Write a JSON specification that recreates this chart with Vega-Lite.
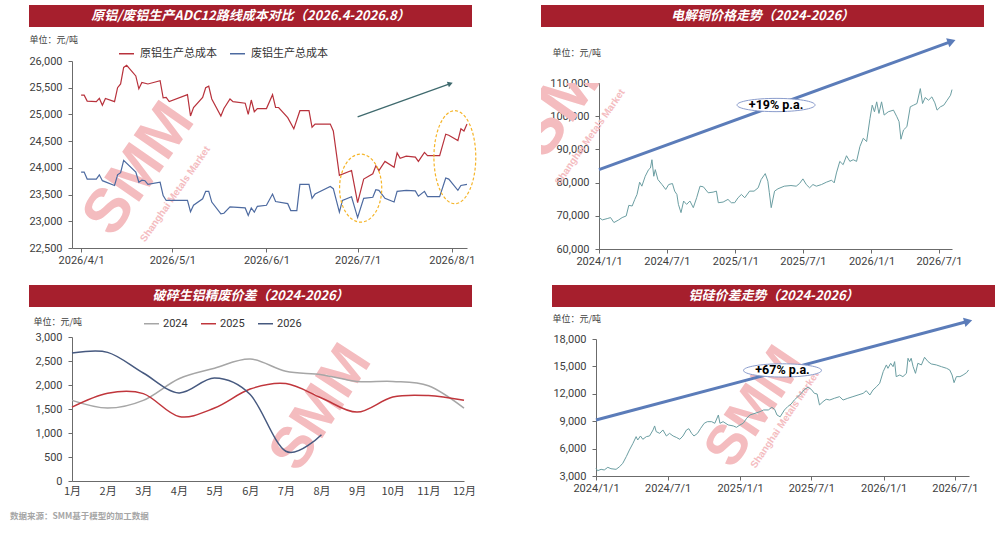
{
  "$schema": "https://vega.github.io/schema/vega-lite/v6.json",
  "background": "white",
  "padding": {"left": 9, "top": 5, "right": 5, "bottom": 5},
  "title": {
    "text": "数据来源：SMM基于模型的加工数据",
    "orient": "bottom", "anchor": "start", "frame": "bounds",
    "dx": -19, "offset": 16, "fontSize": 8.5, "fontWeight": "bold",
    "color": "#a6a6a6", "font": "Noto Sans CJK SC"
  },
  "config": {
    "font": "Roboto, Noto Sans CJK SC",
    "view": {"stroke": null},
    "axis": {
      "grid": false, "domainColor": "#6b6b6b", "tickColor": "#6b6b6b",
      "labelColor": "#404040", "labelFontSize": 11, "tickSize": 4, "labelPadding": 2,
      "titleFontSize": 9, "titleFontWeight": "normal", "titleColor": "#404040",
      "titleFont": "Noto Sans CJK SC", "labelOverlap": false, "labelFlush": false
    },
    "axisY": {"labelPadding": 6, "titleAngle": 0, "titleAlign": "left", "titleBaseline": "middle"}
  },
  "resolve": {"scale": {"color": "independent"}, "legend": {"color": "independent"}},
  "datasets": {
    "tl": [
      {"d": "2026-04-01", "s": "原铝生产总成本", "v": 25360},
      {"d": "2026-04-02", "s": "原铝生产总成本", "v": 25360},
      {"d": "2026-04-03", "s": "原铝生产总成本", "v": 25250},
      {"d": "2026-04-06", "s": "原铝生产总成本", "v": 25240},
      {"d": "2026-04-07", "s": "原铝生产总成本", "v": 25300},
      {"d": "2026-04-08", "s": "原铝生产总成本", "v": 25170},
      {"d": "2026-04-09", "s": "原铝生产总成本", "v": 25300},
      {"d": "2026-04-12", "s": "原铝生产总成本", "v": 25240},
      {"d": "2026-04-13", "s": "原铝生产总成本", "v": 25500},
      {"d": "2026-04-14", "s": "原铝生产总成本", "v": 25570},
      {"d": "2026-04-15", "s": "原铝生产总成本", "v": 25880},
      {"d": "2026-04-16", "s": "原铝生产总成本", "v": 25920},
      {"d": "2026-04-19", "s": "原铝生产总成本", "v": 25720},
      {"d": "2026-04-20", "s": "原铝生产总成本", "v": 25480},
      {"d": "2026-04-21", "s": "原铝生产总成本", "v": 25600},
      {"d": "2026-04-23", "s": "原铝生产总成本", "v": 25570},
      {"d": "2026-04-27", "s": "原铝生产总成本", "v": 25630},
      {"d": "2026-04-28", "s": "原铝生产总成本", "v": 25310},
      {"d": "2026-04-29", "s": "原铝生产总成本", "v": 25320},
      {"d": "2026-04-30", "s": "原铝生产总成本", "v": 25240},
      {"d": "2026-05-06", "s": "原铝生产总成本", "v": 25370},
      {"d": "2026-05-07", "s": "原铝生产总成本", "v": 24970},
      {"d": "2026-05-08", "s": "原铝生产总成本", "v": 25130},
      {"d": "2026-05-11", "s": "原铝生产总成本", "v": 25320},
      {"d": "2026-05-12", "s": "原铝生产总成本", "v": 25500},
      {"d": "2026-05-13", "s": "原铝生产总成本", "v": 25530},
      {"d": "2026-05-14", "s": "原铝生产总成本", "v": 25290},
      {"d": "2026-05-17", "s": "原铝生产总成本", "v": 24970},
      {"d": "2026-05-18", "s": "原铝生产总成本", "v": 25110},
      {"d": "2026-05-20", "s": "原铝生产总成本", "v": 25290},
      {"d": "2026-05-21", "s": "原铝生产总成本", "v": 25240},
      {"d": "2026-05-25", "s": "原铝生产总成本", "v": 25210},
      {"d": "2026-05-26", "s": "原铝生产总成本", "v": 25000},
      {"d": "2026-05-27", "s": "原铝生产总成本", "v": 25270},
      {"d": "2026-05-28", "s": "原铝生产总成本", "v": 25050},
      {"d": "2026-05-29", "s": "原铝生产总成本", "v": 25110},
      {"d": "2026-06-01", "s": "原铝生产总成本", "v": 25110},
      {"d": "2026-06-03", "s": "原铝生产总成本", "v": 25370},
      {"d": "2026-06-04", "s": "原铝生产总成本", "v": 25130},
      {"d": "2026-06-05", "s": "原铝生产总成本", "v": 25130},
      {"d": "2026-06-08", "s": "原铝生产总成本", "v": 24940},
      {"d": "2026-06-10", "s": "原铝生产总成本", "v": 24730},
      {"d": "2026-06-12", "s": "原铝生产总成本", "v": 25070},
      {"d": "2026-06-15", "s": "原铝生产总成本", "v": 25070},
      {"d": "2026-06-16", "s": "原铝生产总成本", "v": 24760},
      {"d": "2026-06-17", "s": "原铝生产总成本", "v": 24820},
      {"d": "2026-06-22", "s": "原铝生产总成本", "v": 24820},
      {"d": "2026-06-23", "s": "原铝生产总成本", "v": 24690},
      {"d": "2026-06-25", "s": "原铝生产总成本", "v": 23860},
      {"d": "2026-06-29", "s": "原铝生产总成本", "v": 23950},
      {"d": "2026-07-01", "s": "原铝生产总成本", "v": 23350},
      {"d": "2026-07-03", "s": "原铝生产总成本", "v": 23790},
      {"d": "2026-07-06", "s": "原铝生产总成本", "v": 23890},
      {"d": "2026-07-07", "s": "原铝生产总成本", "v": 24040},
      {"d": "2026-07-08", "s": "原铝生产总成本", "v": 23950},
      {"d": "2026-07-10", "s": "原铝生产总成本", "v": 24120},
      {"d": "2026-07-13", "s": "原铝生产总成本", "v": 24010},
      {"d": "2026-07-14", "s": "原铝生产总成本", "v": 24280},
      {"d": "2026-07-15", "s": "原铝生产总成本", "v": 24180},
      {"d": "2026-07-17", "s": "原铝生产总成本", "v": 24220},
      {"d": "2026-07-20", "s": "原铝生产总成本", "v": 24200},
      {"d": "2026-07-21", "s": "原铝生产总成本", "v": 24120},
      {"d": "2026-07-23", "s": "原铝生产总成本", "v": 24290},
      {"d": "2026-07-24", "s": "原铝生产总成本", "v": 24230},
      {"d": "2026-07-28", "s": "原铝生产总成本", "v": 24230},
      {"d": "2026-07-30", "s": "原铝生产总成本", "v": 24630},
      {"d": "2026-07-31", "s": "原铝生产总成本", "v": 24610},
      {"d": "2026-08-03", "s": "原铝生产总成本", "v": 24510},
      {"d": "2026-08-04", "s": "原铝生产总成本", "v": 24730},
      {"d": "2026-08-05", "s": "原铝生产总成本", "v": 24690},
      {"d": "2026-08-06", "s": "原铝生产总成本", "v": 24820},
      {"d": "2026-04-01", "s": "废铝生产总成本", "v": 23920},
      {"d": "2026-04-02", "s": "废铝生产总成本", "v": 23920},
      {"d": "2026-04-03", "s": "废铝生产总成本", "v": 23790},
      {"d": "2026-04-06", "s": "废铝生产总成本", "v": 23790},
      {"d": "2026-04-07", "s": "废铝生产总成本", "v": 23870},
      {"d": "2026-04-08", "s": "废铝生产总成本", "v": 23760},
      {"d": "2026-04-12", "s": "废铝生产总成本", "v": 23670},
      {"d": "2026-04-13", "s": "废铝生产总成本", "v": 23870},
      {"d": "2026-04-14", "s": "废铝生产总成本", "v": 23910},
      {"d": "2026-04-15", "s": "废铝生产总成本", "v": 24140},
      {"d": "2026-04-19", "s": "废铝生产总成本", "v": 23920},
      {"d": "2026-04-20", "s": "废铝生产总成本", "v": 23730},
      {"d": "2026-04-21", "s": "废铝生产总成本", "v": 23770},
      {"d": "2026-04-22", "s": "废铝生产总成本", "v": 23760},
      {"d": "2026-04-23", "s": "废铝生产总成本", "v": 23690},
      {"d": "2026-04-27", "s": "废铝生产总成本", "v": 23730},
      {"d": "2026-04-28", "s": "废铝生产总成本", "v": 23480},
      {"d": "2026-04-29", "s": "废铝生产总成本", "v": 23390},
      {"d": "2026-05-06", "s": "废铝生产总成本", "v": 23390},
      {"d": "2026-05-07", "s": "废铝生产总成本", "v": 23180},
      {"d": "2026-05-08", "s": "废铝生产总成本", "v": 23300},
      {"d": "2026-05-11", "s": "废铝生产总成本", "v": 23420},
      {"d": "2026-05-12", "s": "废铝生产总成本", "v": 23560},
      {"d": "2026-05-13", "s": "废铝生产总成本", "v": 23560},
      {"d": "2026-05-14", "s": "废铝生产总成本", "v": 23360},
      {"d": "2026-05-17", "s": "废铝生产总成本", "v": 23140},
      {"d": "2026-05-18", "s": "废铝生产总成本", "v": 23150},
      {"d": "2026-05-20", "s": "废铝生产总成本", "v": 23270},
      {"d": "2026-05-25", "s": "废铝生产总成本", "v": 23250},
      {"d": "2026-05-26", "s": "废铝生产总成本", "v": 23110},
      {"d": "2026-05-27", "s": "废铝生产总成本", "v": 23250},
      {"d": "2026-05-28", "s": "废铝生产总成本", "v": 23170},
      {"d": "2026-05-29", "s": "废铝生产总成本", "v": 23280},
      {"d": "2026-06-01", "s": "废铝生产总成本", "v": 23300},
      {"d": "2026-06-03", "s": "废铝生产总成本", "v": 23510},
      {"d": "2026-06-04", "s": "废铝生产总成本", "v": 23370},
      {"d": "2026-06-08", "s": "废铝生产总成本", "v": 23330},
      {"d": "2026-06-09", "s": "废铝生产总成本", "v": 23200},
      {"d": "2026-06-11", "s": "废铝生产总成本", "v": 23200},
      {"d": "2026-06-12", "s": "废铝生产总成本", "v": 23690},
      {"d": "2026-06-15", "s": "废铝生产总成本", "v": 23690},
      {"d": "2026-06-16", "s": "废铝生产总成本", "v": 23430},
      {"d": "2026-06-17", "s": "废铝生产总成本", "v": 23510},
      {"d": "2026-06-22", "s": "废铝生产总成本", "v": 23650},
      {"d": "2026-06-23", "s": "废铝生产总成本", "v": 23610},
      {"d": "2026-06-25", "s": "废铝生产总成本", "v": 23170},
      {"d": "2026-06-26", "s": "废铝生产总成本", "v": 23390},
      {"d": "2026-06-29", "s": "废铝生产总成本", "v": 23460},
      {"d": "2026-07-01", "s": "废铝生产总成本", "v": 23070},
      {"d": "2026-07-03", "s": "废铝生产总成本", "v": 23430},
      {"d": "2026-07-06", "s": "废铝生产总成本", "v": 23450},
      {"d": "2026-07-07", "s": "废铝生产总成本", "v": 23590},
      {"d": "2026-07-08", "s": "废铝生产总成本", "v": 23580},
      {"d": "2026-07-10", "s": "废铝生产总成本", "v": 23430},
      {"d": "2026-07-13", "s": "废铝生产总成本", "v": 23360},
      {"d": "2026-07-14", "s": "废铝生产总成本", "v": 23560},
      {"d": "2026-07-17", "s": "废铝生产总成本", "v": 23580},
      {"d": "2026-07-20", "s": "废铝生产总成本", "v": 23570},
      {"d": "2026-07-21", "s": "废铝生产总成本", "v": 23470},
      {"d": "2026-07-23", "s": "废铝生产总成本", "v": 23560},
      {"d": "2026-07-24", "s": "废铝生产总成本", "v": 23460},
      {"d": "2026-07-28", "s": "废铝生产总成本", "v": 23460},
      {"d": "2026-07-30", "s": "废铝生产总成本", "v": 23810},
      {"d": "2026-07-31", "s": "废铝生产总成本", "v": 23790},
      {"d": "2026-08-03", "s": "废铝生产总成本", "v": 23580},
      {"d": "2026-08-04", "s": "废铝生产总成本", "v": 23670},
      {"d": "2026-08-06", "s": "废铝生产总成本", "v": 23690}
    ],
    "tr": [
      {"d": "2024-01-01", "v": 69460}, {"d": "2024-01-10", "v": 68770}, {"d": "2024-01-23", "v": 69160},
      {"d": "2024-02-01", "v": 69460}, {"d": "2024-02-10", "v": 67970}, {"d": "2024-02-23", "v": 68770},
      {"d": "2024-03-03", "v": 69460}, {"d": "2024-03-14", "v": 69960}, {"d": "2024-03-21", "v": 73150},
      {"d": "2024-03-30", "v": 72950}, {"d": "2024-04-06", "v": 74940}, {"d": "2024-04-12", "v": 76430},
      {"d": "2024-04-19", "v": 80120}, {"d": "2024-04-25", "v": 78920}, {"d": "2024-05-04", "v": 81910},
      {"d": "2024-05-13", "v": 83900}, {"d": "2024-05-18", "v": 84400}, {"d": "2024-05-22", "v": 86890},
      {"d": "2024-05-27", "v": 81910}, {"d": "2024-05-31", "v": 83900}, {"d": "2024-06-07", "v": 80920},
      {"d": "2024-06-18", "v": 79420}, {"d": "2024-06-28", "v": 77930}, {"d": "2024-07-06", "v": 79420},
      {"d": "2024-07-16", "v": 79720}, {"d": "2024-07-22", "v": 77430}, {"d": "2024-07-28", "v": 76430},
      {"d": "2024-08-01", "v": 73450}, {"d": "2024-08-08", "v": 70960}, {"d": "2024-08-15", "v": 74440},
      {"d": "2024-08-23", "v": 73450}, {"d": "2024-09-01", "v": 74440}, {"d": "2024-09-10", "v": 72450},
      {"d": "2024-09-19", "v": 75440}, {"d": "2024-09-28", "v": 78920}, {"d": "2024-10-07", "v": 78730},
      {"d": "2024-10-20", "v": 76930}, {"d": "2024-11-02", "v": 77130}, {"d": "2024-11-11", "v": 77430},
      {"d": "2024-11-16", "v": 73940}, {"d": "2024-11-29", "v": 74140}, {"d": "2024-12-12", "v": 74940},
      {"d": "2024-12-21", "v": 73940}, {"d": "2024-12-30", "v": 73940}, {"d": "2025-01-08", "v": 75440},
      {"d": "2025-01-17", "v": 76430}, {"d": "2025-01-26", "v": 75440}, {"d": "2025-02-08", "v": 77430},
      {"d": "2025-02-20", "v": 77430}, {"d": "2025-03-03", "v": 78430}, {"d": "2025-03-11", "v": 80920},
      {"d": "2025-03-22", "v": 82710}, {"d": "2025-03-29", "v": 80420}, {"d": "2025-04-02", "v": 76930},
      {"d": "2025-04-07", "v": 72450}, {"d": "2025-04-16", "v": 77430}, {"d": "2025-04-25", "v": 78130},
      {"d": "2025-05-12", "v": 78920}, {"d": "2025-05-30", "v": 79120}, {"d": "2025-06-13", "v": 78920},
      {"d": "2025-06-22", "v": 79720}, {"d": "2025-07-01", "v": 81120}, {"d": "2025-07-10", "v": 79420},
      {"d": "2025-07-19", "v": 78430}, {"d": "2025-07-28", "v": 79420}, {"d": "2025-08-06", "v": 78920},
      {"d": "2025-08-20", "v": 79420}, {"d": "2025-09-02", "v": 80120}, {"d": "2025-09-16", "v": 80720},
      {"d": "2025-09-23", "v": 79920}, {"d": "2025-09-29", "v": 82910}, {"d": "2025-10-08", "v": 86390},
      {"d": "2025-10-17", "v": 85400}, {"d": "2025-10-26", "v": 88090}, {"d": "2025-11-04", "v": 86390},
      {"d": "2025-11-13", "v": 86890}, {"d": "2025-11-22", "v": 86390}, {"d": "2025-12-01", "v": 90880},
      {"d": "2025-12-10", "v": 93370}, {"d": "2025-12-19", "v": 92370}, {"d": "2025-12-28", "v": 99340},
      {"d": "2026-01-03", "v": 103330}, {"d": "2026-01-09", "v": 101330}, {"d": "2026-01-15", "v": 104320},
      {"d": "2026-01-21", "v": 100840}, {"d": "2026-01-28", "v": 104320}, {"d": "2026-02-04", "v": 100340},
      {"d": "2026-02-15", "v": 101330}, {"d": "2026-03-01", "v": 101830}, {"d": "2026-03-10", "v": 99840},
      {"d": "2026-03-16", "v": 98350}, {"d": "2026-03-21", "v": 93070}, {"d": "2026-03-28", "v": 95860},
      {"d": "2026-04-06", "v": 96850}, {"d": "2026-04-15", "v": 102830}, {"d": "2026-04-24", "v": 103330},
      {"d": "2026-05-03", "v": 103820}, {"d": "2026-05-12", "v": 108310}, {"d": "2026-05-18", "v": 103820},
      {"d": "2026-05-25", "v": 105620}, {"d": "2026-06-03", "v": 104820}, {"d": "2026-06-12", "v": 105820},
      {"d": "2026-06-20", "v": 104020}, {"d": "2026-06-26", "v": 101830}, {"d": "2026-07-05", "v": 102830},
      {"d": "2026-07-14", "v": 103330}, {"d": "2026-07-23", "v": 104820}, {"d": "2026-08-01", "v": 106310},
      {"d": "2026-08-05", "v": 108010}
    ],
    "br": [
      {"d": "2024-01-01", "v": 3840}, {"d": "2024-01-05", "v": 3580}, {"d": "2024-01-14", "v": 3730},
      {"d": "2024-01-22", "v": 3660}, {"d": "2024-01-31", "v": 3950}, {"d": "2024-02-08", "v": 3800},
      {"d": "2024-02-21", "v": 3730}, {"d": "2024-03-01", "v": 4020}, {"d": "2024-03-09", "v": 4390},
      {"d": "2024-03-18", "v": 5120}, {"d": "2024-03-26", "v": 5850}, {"d": "2024-04-04", "v": 6580},
      {"d": "2024-04-12", "v": 7310}, {"d": "2024-04-16", "v": 6940}, {"d": "2024-04-23", "v": 7380},
      {"d": "2024-04-29", "v": 7020}, {"d": "2024-05-08", "v": 7310}, {"d": "2024-05-16", "v": 7380},
      {"d": "2024-05-25", "v": 8040}, {"d": "2024-05-29", "v": 8480}, {"d": "2024-06-02", "v": 7860},
      {"d": "2024-06-11", "v": 7670}, {"d": "2024-06-19", "v": 8040}, {"d": "2024-06-28", "v": 7380},
      {"d": "2024-07-06", "v": 7670}, {"d": "2024-07-15", "v": 7380}, {"d": "2024-07-23", "v": 7230},
      {"d": "2024-08-01", "v": 7020}, {"d": "2024-08-09", "v": 7380}, {"d": "2024-08-18", "v": 8040},
      {"d": "2024-08-24", "v": 8180}, {"d": "2024-08-31", "v": 7670}, {"d": "2024-09-06", "v": 7380},
      {"d": "2024-09-15", "v": 7670}, {"d": "2024-09-23", "v": 8220}, {"d": "2024-10-02", "v": 8770},
      {"d": "2024-10-10", "v": 8950}, {"d": "2024-10-21", "v": 8950}, {"d": "2024-10-29", "v": 8770},
      {"d": "2024-11-07", "v": 9680}, {"d": "2024-11-11", "v": 8770}, {"d": "2024-11-19", "v": 8950},
      {"d": "2024-12-02", "v": 8590}, {"d": "2024-12-15", "v": 8480}, {"d": "2024-12-23", "v": 8330},
      {"d": "2025-01-01", "v": 8590}, {"d": "2025-01-09", "v": 8770}, {"d": "2025-01-18", "v": 9320},
      {"d": "2025-01-26", "v": 9680}, {"d": "2025-02-08", "v": 9860}, {"d": "2025-02-21", "v": 10050},
      {"d": "2025-03-02", "v": 10230}, {"d": "2025-03-14", "v": 10230}, {"d": "2025-03-23", "v": 10520},
      {"d": "2025-03-30", "v": 10300}, {"d": "2025-04-05", "v": 9680}, {"d": "2025-04-13", "v": 9480},
      {"d": "2025-04-24", "v": 10230}, {"d": "2025-05-02", "v": 10590}, {"d": "2025-05-11", "v": 10880},
      {"d": "2025-05-19", "v": 11320}, {"d": "2025-05-28", "v": 11690}, {"d": "2025-06-06", "v": 12050},
      {"d": "2025-06-14", "v": 12490}, {"d": "2025-06-23", "v": 12710}, {"d": "2025-07-01", "v": 12490},
      {"d": "2025-07-09", "v": 12050}, {"d": "2025-07-16", "v": 11980}, {"d": "2025-07-22", "v": 10780},
      {"d": "2025-07-31", "v": 11140}, {"d": "2025-08-08", "v": 11400}, {"d": "2025-08-17", "v": 11320},
      {"d": "2025-08-29", "v": 11510}, {"d": "2025-09-11", "v": 11690}, {"d": "2025-09-20", "v": 11320},
      {"d": "2025-10-02", "v": 11510}, {"d": "2025-10-15", "v": 11690}, {"d": "2025-10-28", "v": 11870},
      {"d": "2025-11-10", "v": 12050}, {"d": "2025-11-18", "v": 12340}, {"d": "2025-11-27", "v": 11870},
      {"d": "2025-12-05", "v": 12420}, {"d": "2025-12-14", "v": 12780}, {"d": "2025-12-22", "v": 13150},
      {"d": "2025-12-31", "v": 14430}, {"d": "2026-01-08", "v": 15160}, {"d": "2026-01-12", "v": 14790},
      {"d": "2026-01-19", "v": 15340}, {"d": "2026-01-25", "v": 14970}, {"d": "2026-01-29", "v": 15520},
      {"d": "2026-02-02", "v": 13880}, {"d": "2026-02-11", "v": 14060}, {"d": "2026-02-19", "v": 13880},
      {"d": "2026-02-28", "v": 14240}, {"d": "2026-03-04", "v": 15890}, {"d": "2026-03-08", "v": 15520},
      {"d": "2026-03-12", "v": 15890}, {"d": "2026-03-17", "v": 14970}, {"d": "2026-03-23", "v": 14240},
      {"d": "2026-03-29", "v": 15340}, {"d": "2026-04-07", "v": 15160}, {"d": "2026-04-15", "v": 16000},
      {"d": "2026-04-24", "v": 15520}, {"d": "2026-05-02", "v": 15270}, {"d": "2026-05-15", "v": 15160},
      {"d": "2026-05-28", "v": 14970}, {"d": "2026-06-10", "v": 14790}, {"d": "2026-06-18", "v": 14610},
      {"d": "2026-06-24", "v": 14060}, {"d": "2026-06-29", "v": 13220}, {"d": "2026-07-05", "v": 13880},
      {"d": "2026-07-14", "v": 13880}, {"d": "2026-07-22", "v": 14060}, {"d": "2026-07-31", "v": 14320},
      {"d": "2026-08-05", "v": 14610}
    ],
    "bl": [
      {"m": "1月", "y": "2024", "v": 1680}, {"m": "2月", "y": "2024", "v": 1520}, {"m": "3月", "y": "2024", "v": 1680},
      {"m": "4月", "y": "2024", "v": 2130}, {"m": "5月", "y": "2024", "v": 2350}, {"m": "6月", "y": "2024", "v": 2540},
      {"m": "7月", "y": "2024", "v": 2285}, {"m": "8月", "y": "2024", "v": 2215}, {"m": "9月", "y": "2024", "v": 2075},
      {"m": "10月", "y": "2024", "v": 2075}, {"m": "11月", "y": "2024", "v": 1985}, {"m": "12月", "y": "2024", "v": 1520},
      {"m": "1月", "y": "2025", "v": 1540}, {"m": "2月", "y": "2025", "v": 1830}, {"m": "3月", "y": "2025", "v": 1820},
      {"m": "4月", "y": "2025", "v": 1345}, {"m": "5月", "y": "2025", "v": 1520}, {"m": "6月", "y": "2025", "v": 1915},
      {"m": "7月", "y": "2025", "v": 2030}, {"m": "8月", "y": "2025", "v": 1730}, {"m": "9月", "y": "2025", "v": 1435},
      {"m": "10月", "y": "2025", "v": 1750}, {"m": "11月", "y": "2025", "v": 1780}, {"m": "12月", "y": "2025", "v": 1680},
      {"m": "1月", "y": "2026", "v": 2665}, {"m": "2月", "y": "2026", "v": 2680}, {"m": "3月", "y": "2026", "v": 2250},
      {"m": "4月", "y": "2026", "v": 1835}, {"m": "5月", "y": "2026", "v": 2145}, {"m": "6月", "y": "2026", "v": 1800},
      {"m": "7月", "y": "2026", "v": 620}, {"m": "8月", "y": "2026", "v": 965}
    ]
  },
  "vconcat": [
    {
      "resolve": {"scale": {"color": "independent"}, "legend": {"color": "independent"}},
      "hconcat": [
        {
          "resolve": {"scale": {"color": "independent"}, "legend": {"color": "independent"}},
          "vconcat": [
            {
              "width": 443, "height": 22,
              "view": {"fill": "#a61f2d", "stroke": null},
              "data": {"values": [{"t": "原铝/废铝生产ADC12路线成本对比（2026.4-2026.8）"}]},
              "mark": {"type": "text", "color": "white", "fontSize": 13, "fontWeight": "bold", "fontStyle": "italic", "font": "Noto Sans CJK SC"},
              "encoding": {"text": {"field": "t"}}
            },
            {
              "width": 438, "height": 187,
              "encoding": {
                "x": {
                  "field": "d", "type": "temporal",
                  "scale": {"type": "utc", "range": [43, 438], "domain": [{"year": 2026, "month": 3, "date": 29, "utc": true}, {"year": 2026, "month": 8, "date": 6, "utc": true}]},
                  "axis": {
                    "title": null, "format": "%Y/%-m/%-d",
                    "values": [
                      {"year": 2026, "month": 4, "date": 1, "utc": true},
                      {"year": 2026, "month": 5, "date": 1, "utc": true},
                      {"year": 2026, "month": 6, "date": 1, "utc": true},
                      {"year": 2026, "month": 7, "date": 1, "utc": true},
                      {"year": 2026, "month": 8, "date": 1, "utc": true}
                    ]
                  }
                },
                "y": {
                  "field": "v", "type": "quantitative",
                  "scale": {"domain": [22500, 26000], "nice": false, "zero": false},
                  "axis": {
                    "offset": -43,
                    "values": [22500, 23000, 23500, 24000, 24500, 25000, 25500, 26000], "format": ",d",
                    "title": "单位：元/吨", "titleX": -43, "titleY": -22
                  }
                }
              },
              "layer": [
                {
                  "data": {"values": [{"d": "2026-04-20", "v": 23980, "t": "SMM"}]},
                  "mark": {"type": "text", "clip": true, "angle": -55, "fontSize": 62, "fontWeight": "bold", "font": "Liberation Sans", "color": "#f4bcbf"},
                  "encoding": {"text": {"field": "t"}}
                },
                {
                  "data": {"values": [{"d": "2026-05-02", "v": 23510, "t": "Shanghai Metals Market"}]},
                  "mark": {"type": "text", "clip": true, "angle": -55, "fontSize": 10, "fontWeight": "bold", "font": "Liberation Sans", "color": "#f4bcbf"},
                  "encoding": {"text": {"field": "t"}}
                },
                {
                  "data": {"name": "tl"},
                  "mark": {"type": "line", "strokeWidth": 1.2},
                  "encoding": {
                    "color": {
                      "field": "s", "type": "nominal",
                      "scale": {"domain": ["原铝生产总成本", "废铝生产总成本"], "range": ["#b8323c", "#4d6aa0"]},
                      "legend": {
                        "title": null, "orient": "none", "legendX": 89, "legendY": -16, "direction": "horizontal",
                        "symbolType": "stroke", "symbolSize": 225, "symbolStrokeWidth": 1.5,
                        "labelFontSize": 11, "labelColor": "#333333", "labelFont": "Noto Sans CJK SC",
                        "labelOffset": 5, "columnPadding": 10
                      }
                    }
                  }
                },
                {
                  "data": {"values": [{"d": "2026-07-01", "v": 24955}, {"d": "2026-07-31T12:00:00Z", "v": 25577}]},
                  "mark": {"type": "line", "color": "#3f6a6e", "strokeWidth": 1.3}
                },
                {
                  "data": {"values": [{"d": "2026-07-31T12:00:00Z", "v": 25577}]},
                  "mark": {"type": "point", "shape": "triangle-right", "angle": -20, "size": 35, "filled": true, "color": "#3f6a6e", "opacity": 1}
                },
                {
                  "data": {"values": [{"d": "2026-07-02", "v": 23620}]},
                  "mark": {"type": "point", "shape": "M-0.62,0A0.62,1,0,1,1,0.62,0A0.62,1,0,1,1,-0.62,0Z", "size": 4624, "filled": false, "stroke": "#f5b52a", "strokeWidth": 1.2, "strokeDash": [3, 2], "opacity": 1}
                },
                {
                  "data": {"values": [{"d": "2026-08-02", "v": 24200}]},
                  "mark": {"type": "point", "shape": "M-0.45,0A0.45,1,0,1,1,0.45,0A0.45,1,0,1,1,-0.45,0Z", "size": 8649, "filled": false, "stroke": "#f5b52a", "strokeWidth": 1.2, "strokeDash": [3, 2], "opacity": 1}
                }
              ]
            }
          ],
          "spacing": 8
        },
        {
          "resolve": {"scale": {"color": "independent"}, "legend": {"color": "independent"}},
          "vconcat": [
            {
              "width": 443, "height": 22,
              "view": {"fill": "#a61f2d", "stroke": null},
              "data": {"values": [{"t": "电解铜价格走势（2024-2026）"}]},
              "mark": {"type": "text", "color": "white", "fontSize": 13, "fontWeight": "bold", "fontStyle": "italic", "font": "Noto Sans CJK SC"},
              "encoding": {"text": {"field": "t"}}
            },
            {
              "width": 411, "height": 166,
              "encoding": {
                "x": {
                  "field": "d", "type": "temporal",
                  "scale": {"type": "utc", "range": [58, 411], "domain": [{"year": 2024, "month": 1, "date": 1, "utc": true}, {"year": 2026, "month": 8, "date": 5, "utc": true}]},
                  "axis": {
                    "title": null, "format": "%Y/%-m/%-d",
                    "values": [
                      {"year": 2024, "month": 1, "date": 1, "utc": true},
                      {"year": 2024, "month": 7, "date": 1, "utc": true},
                      {"year": 2025, "month": 1, "date": 1, "utc": true},
                      {"year": 2025, "month": 7, "date": 1, "utc": true},
                      {"year": 2026, "month": 1, "date": 1, "utc": true},
                      {"year": 2026, "month": 7, "date": 1, "utc": true}
                    ]
                  }
                },
                "y": {
                  "field": "v", "type": "quantitative",
                  "scale": {"domain": [60000, 110000], "nice": false, "zero": false},
                  "axis": {
                    "offset": -58,
                    "values": [60000, 70000, 80000, 90000, 100000, 110000], "format": ",d",
                    "title": "单位：元/吨", "titleX": -47, "titleY": -31
                  }
                }
              },
              "layer": [
                {
                  "data": {"values": [{"d": "2023-10-23", "v": 108790, "t": "SMM"}]},
                  "mark": {"type": "text", "clip": true, "angle": -55, "fontSize": 66, "fontWeight": "bold", "font": "Liberation Sans", "color": "#f4bcbf"},
                  "encoding": {"text": {"field": "t"}}
                },
                {
                  "data": {"values": [{"d": "2023-12-08", "v": 93730, "t": "Shanghai Metals Market"}]},
                  "mark": {"type": "text", "clip": true, "angle": -55, "fontSize": 10, "fontWeight": "bold", "font": "Liberation Sans", "color": "#f4bcbf"},
                  "encoding": {"text": {"field": "t"}}
                },
                {
                  "data": {"name": "tr"},
                  "mark": {"type": "line", "color": "#6b9ea2", "strokeWidth": 1}
                },
                {
                  "data": {"values": [{"d": "2024-01-01", "v": 83900}, {"d": "2026-08-04", "v": 122560}]},
                  "mark": {"type": "line", "color": "#5b7cb9", "strokeWidth": 3}
                },
                {
                  "data": {"values": [{"d": "2026-08-04", "v": 122560}]},
                  "mark": {"type": "point", "shape": "triangle-right", "angle": -20, "size": 90, "filled": true, "color": "#5b7cb9", "opacity": 1}
                },
                {
                  "data": {"values": [{"d": "2025-04-20", "v": 103370, "t": "+19% p.a."}]},
                  "mark": {"type": "point", "shape": "M-1,0A1,0.17,0,1,1,1,0A1,0.17,0,1,1,-1,0Z", "size": 6084, "filled": true, "fill": "white", "stroke": "#8a9ccc", "strokeWidth": 1, "opacity": 1}
                },
                {
                  "data": {"values": [{"d": "2025-04-20", "v": 103370, "t": "+19% p.a."}]},
                  "mark": {"type": "text", "fontSize": 12.5, "fontWeight": "bold", "color": "black", "font": "Roboto"},
                  "encoding": {"text": {"field": "t"}}
                }
              ]
            }
          ],
          "spacing": 8
        }
      ],
      "spacing": 62
    },
    {
      "resolve": {"scale": {"color": "independent"}, "legend": {"color": "independent"}},
      "hconcat": [
        {
          "resolve": {"scale": {"color": "independent"}, "legend": {"color": "independent"}},
          "vconcat": [
            {
              "width": 443, "height": 22,
              "view": {"fill": "#a61f2d", "stroke": null},
              "data": {"values": [{"t": "破碎生铝精废价差（2024-2026）"}]},
              "mark": {"type": "text", "color": "white", "fontSize": 13, "fontWeight": "bold", "fontStyle": "italic", "font": "Noto Sans CJK SC"},
              "encoding": {"text": {"field": "t"}}
            },
            {
              "width": 435, "height": 144,
              "encoding": {
                "x": {
                  "field": "m", "type": "ordinal",
                  "sort": ["1月", "2月", "3月", "4月", "5月", "6月", "7月", "8月", "9月", "10月", "11月", "12月"],
                  "scale": {"type": "point", "padding": 0, "range": [43, 435], "domain": ["1月", "2月", "3月", "4月", "5月", "6月", "7月", "8月", "9月", "10月", "11月", "12月"]},
                  "axis": {"title": null, "labelAngle": 0, "ticks": false, "labelPadding": 4, "labelFont": "Noto Sans CJK SC"}
                },
                "y": {
                  "field": "v", "type": "quantitative",
                  "scale": {"domain": [0, 3000], "nice": false},
                  "axis": {
                    "offset": -43,
                    "values": [0, 500, 1000, 1500, 2000, 2500, 3000], "format": ",d",
                    "title": "单位：元/吨", "titleX": -39, "titleY": -16
                  }
                }
              },
              "layer": [
                {
                  "data": {"values": [{"m": "8月", "v": 1520, "t": "SMM"}]},
                  "mark": {"type": "text", "clip": true, "angle": -57, "fontSize": 58, "fontWeight": "bold", "font": "Liberation Sans", "color": "#f4bcbf"},
                  "encoding": {"text": {"field": "t"}}
                },
                {
                  "data": {"name": "bl"},
                  "mark": {"type": "line", "interpolate": "cardinal", "strokeWidth": 1.5},
                  "encoding": {
                    "color": {
                      "field": "y", "type": "nominal",
                      "scale": {"domain": ["2024", "2025", "2026"], "range": ["#a6a6a6", "#c0363c", "#46597f"]},
                      "legend": {
                        "title": null, "orient": "none", "legendX": 114, "legendY": -22, "direction": "horizontal",
                        "symbolType": "stroke", "symbolSize": 225, "symbolStrokeWidth": 1.5,
                        "labelFontSize": 11, "labelColor": "#333333", "labelOffset": 3, "columnPadding": 10
                      }
                    }
                  }
                }
              ]
            }
          ],
          "spacing": 8
        },
        {
          "resolve": {"scale": {"color": "independent"}, "legend": {"color": "independent"}},
          "vconcat": [
            {
              "width": 443, "height": 22,
              "view": {"fill": "#a61f2d", "stroke": null},
              "data": {"values": [{"t": "铝硅价差走势（2024-2026）"}]},
              "mark": {"type": "text", "color": "white", "fontSize": 13, "fontWeight": "bold", "fontStyle": "italic", "font": "Noto Sans CJK SC"},
              "encoding": {"text": {"field": "t"}}
            },
            {
              "width": 417, "height": 137,
              "encoding": {
                "x": {
                  "field": "d", "type": "temporal",
                  "scale": {"type": "utc", "range": [44, 417], "domain": [{"year": 2024, "month": 1, "date": 1, "utc": true}, {"year": 2026, "month": 8, "date": 6, "utc": true}]},
                  "axis": {
                    "title": null, "format": "%Y/%-m/%-d",
                    "values": [
                      {"year": 2024, "month": 1, "date": 1, "utc": true},
                      {"year": 2024, "month": 7, "date": 1, "utc": true},
                      {"year": 2025, "month": 1, "date": 1, "utc": true},
                      {"year": 2025, "month": 7, "date": 1, "utc": true},
                      {"year": 2026, "month": 1, "date": 1, "utc": true},
                      {"year": 2026, "month": 7, "date": 1, "utc": true}
                    ]
                  }
                },
                "y": {
                  "field": "v", "type": "quantitative",
                  "scale": {"domain": [3000, 18000], "nice": false, "zero": false},
                  "axis": {
                    "offset": -44,
                    "values": [3000, 6000, 9000, 12000, 15000, 18000], "format": ",d",
                    "title": "单位：元/吨", "titleX": -44, "titleY": -21
                  }
                }
              },
              "layer": [
                {
                  "data": {"values": [{"d": "2025-02-08", "v": 10570, "t": "SMM"}]},
                  "mark": {"type": "text", "clip": true, "angle": -56, "fontSize": 56, "fontWeight": "bold", "font": "Liberation Sans", "color": "#f4bcbf"},
                  "encoding": {"text": {"field": "t"}}
                },
                {
                  "data": {"values": [{"d": "2025-04-25", "v": 9150, "t": "Shanghai Metals Market"}]},
                  "mark": {"type": "text", "clip": true, "angle": -56, "fontSize": 10, "fontWeight": "bold", "font": "Liberation Sans", "color": "#f4bcbf"},
                  "encoding": {"text": {"field": "t"}}
                },
                {
                  "data": {"name": "br"},
                  "mark": {"type": "line", "color": "#6b9ea2", "strokeWidth": 1}
                },
                {
                  "data": {"values": [{"d": "2024-01-01", "v": 9130}, {"d": "2026-08-04", "v": 19940}]},
                  "mark": {"type": "line", "color": "#5b7cb9", "strokeWidth": 3}
                },
                {
                  "data": {"values": [{"d": "2026-08-04", "v": 19940}]},
                  "mark": {"type": "point", "shape": "triangle-right", "angle": -15, "size": 90, "filled": true, "color": "#5b7cb9", "opacity": 1}
                },
                {
                  "data": {"values": [{"d": "2025-04-19", "v": 14560, "t": "+67% p.a."}]},
                  "mark": {"type": "point", "shape": "M-1,0A1,0.17,0,1,1,1,0A1,0.17,0,1,1,-1,0Z", "size": 6084, "filled": true, "fill": "white", "stroke": "#8a9ccc", "strokeWidth": 1, "opacity": 1}
                },
                {
                  "data": {"values": [{"d": "2025-04-19", "v": 14560, "t": "+67% p.a."}]},
                  "mark": {"type": "text", "fontSize": 12.5, "fontWeight": "bold", "color": "black", "font": "Roboto"},
                  "encoding": {"text": {"field": "t"}}
                }
              ]
            }
          ],
          "spacing": 7
        }
      ],
      "spacing": 76
    }
  ],
  "spacing": 19
}
